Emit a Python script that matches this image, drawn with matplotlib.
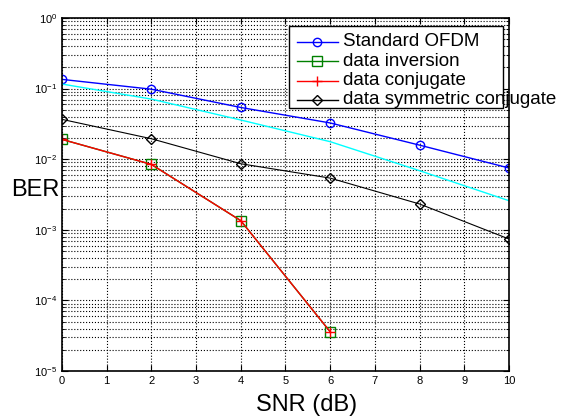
import numpy as np
import matplotlib.pyplot as plt
from matplotlib.patches import Rectangle
from matplotlib.lines import Line2D

plt.rcParams['font.family'] = ['Liberation Sans', 'DejaVu Sans']
plt.rcParams['mathtext.fontset'] = 'custom'
plt.rcParams['mathtext.rm'] = 'Liberation Sans'
plt.rcParams['mathtext.it'] = 'Liberation Sans:italic'

# SNR points and BER values
snr = [0, 2, 4, 6, 8, 10]
ber_standard = [0.135, 0.098, 0.054, 0.0326, 0.0158, 0.0075]
ber_theory = [0.116, 0.071, 0.0359, 0.0177, 0.00687, 0.00258]
snr_short = [0, 2, 4, 6]
ber_inversion = [0.0191, 0.00845, 0.00135, 3.6e-5]
ber_conjugate = [0.0191, 0.00845, 0.00135, 3.6e-5]
ber_symmetric = [0.0367, 0.0195, 0.00863, 0.0054, 0.00232, 0.00074]

labels = ['Standard OFDM', 'data inversion', 'data conjugate',
          'data symmetric conjugate']

fig = plt.figure(figsize=(5.62, 4.17), dpi=100)
ax = fig.add_axes([0.110, 0.110, 0.796, 0.847])

l1, = ax.semilogy(snr, ber_standard, '-o', color='blue', mfc='none',
                  ms=6, lw=1)
ax.semilogy(snr, ber_theory, '-', color='cyan', lw=1)
l2, = ax.semilogy(snr_short, ber_inversion, '-s', color='green', mfc='none',
                  ms=6.5, lw=1)
l3, = ax.semilogy(snr_short, ber_conjugate, '-+', color='red', ms=6.5, lw=1)
l4, = ax.semilogy(snr, ber_symmetric, '-D', color='black', mfc='none',
                  ms=5, lw=0.8)

ax.set_xlim(0, 10)
ax.set_ylim(1e-5, 1)
ax.set_xticks(range(0, 11))
ax.grid(True, which='major', color='black', linestyle=':', lw=0.8)
ax.grid(True, which='minor', axis='y', color='black', linestyle=':', lw=0.8)
ax.tick_params(which='both', direction='in', top=True, right=True,
               labelsize=8)
ax.tick_params(which='major', length=4)
ax.tick_params(which='minor', length=2)
for s in ax.spines.values():
    s.set_linewidth(1.2)

ax.set_xlabel('SNR (dB)', fontsize=17)
ax.xaxis.set_label_coords(0.548, -0.065, transform=ax.transAxes)
fig.text(0.02, 0.545, 'BER', fontsize=17, va='center', ha='left')

# MATLAB style legend, text overflows the box
ax.add_patch(Rectangle((0.508, 0.745), 0.479, 0.232, transform=ax.transAxes,
                       facecolor='white', edgecolor='black', lw=1, zorder=5))
for i, (h, lab) in enumerate(zip([l1, l2, l3, l4], labels)):
    y = 0.932 - i * 0.0547
    ax.add_line(Line2D([0.526, 0.617], [y, y], transform=ax.transAxes,
                       color=h.get_color(), lw=1, zorder=6))
    ax.add_line(Line2D([0.5715], [y], transform=ax.transAxes,
                       color=h.get_color(), marker=h.get_marker(),
                       mfc='none', ms=h.get_markersize(), zorder=6))
    ax.text(0.629, y, lab, transform=ax.transAxes, fontsize=13.5,
            va='center', ha='left', zorder=7, clip_on=False)

fig.savefig('out.png', dpi=100)
